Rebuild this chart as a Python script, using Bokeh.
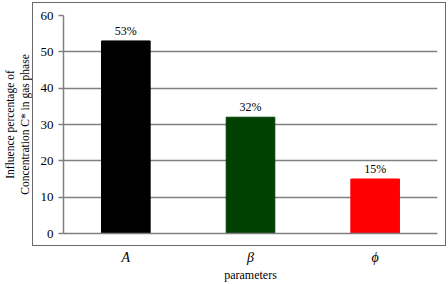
from bokeh.plotting import figure
from bokeh.models import ColumnDataSource, FactorRange, InlineStyleSheet
from bokeh.core.properties import value
from bokeh.embed import file_html
from bokeh.resources import INLINE

categories = ["A", "β", "ϕ"]
values = [53, 32, 15]
labels = ["53%", "32%", "15%"]
colors = ["#000000", "#004000", "#ff0000"]
y_ticks = [0, 10, 20, 30, 40, 50, 60]

SERIF = "Liberation Serif"

src = ColumnDataSource(dict(cat=categories, val=values, lab=labels, col=colors))

css = InlineStyleSheet(css="""
:host { position: relative; }
:host::after { content: ''; position: absolute; left: 32px; top: 2px; width: 412px; height: 242px;
  border: 1px solid #6a6a6a; pointer-events: none; }
""")

p = figure(width=448, height=284, x_range=FactorRange(*categories), y_range=(0, 60),
           output_backend="svg", toolbar_location=None,
           min_border_left=63, min_border_right=11, min_border_top=15, min_border_bottom=49,
           stylesheets=[css])
p.background_fill_color = "white"
p.border_fill_color = "white"
p.outline_line_color = None
p.x_range.range_padding = 0

p.vbar(x="cat", top="val", width=0.39, fill_color="col", line_color="col", source=src)
p.text(x="cat", y="val", text="lab", source=src, y_offset=-3,
       text_align="center", text_baseline="bottom",
       text_font=value(SERIF), text_font_size="12px", text_color="black")

gray = "#808080"
p.xgrid.grid_line_color = None
p.ygrid.grid_line_color = gray
p.ygrid.grid_line_width = 1.5

p.yaxis.ticker = y_ticks
p.yaxis.axis_line_color = gray
p.yaxis.axis_line_width = 1.5
p.yaxis.major_tick_line_color = gray
p.yaxis.major_tick_line_width = 1.5
p.yaxis.major_tick_out = 5
p.yaxis.major_tick_in = 0
p.yaxis.minor_tick_line_color = None
p.yaxis.major_label_standoff = 5
p.yaxis.major_label_text_font = SERIF
p.yaxis.major_label_text_font_size = "13px"
p.yaxis.major_label_text_color = "black"
p.yaxis.axis_label = "Influence percentage of\nConcentration C* in gas phase"
p.yaxis.axis_label_text_font = SERIF
p.yaxis.axis_label_text_font_style = "normal"
p.yaxis.axis_label_text_font_size = "11.5px"
p.yaxis.axis_label_text_color = "black"
p.yaxis.axis_label_standoff = 7

p.xaxis.axis_line_color = gray
p.xaxis.axis_line_width = 1.5
p.xaxis.major_tick_line_color = None
p.xaxis.minor_tick_line_color = None
p.xaxis.major_label_standoff = 10
p.xaxis.major_label_text_font = SERIF
p.xaxis.major_label_text_font_style = "italic"
p.xaxis.major_label_text_font_size = "14px"
p.xaxis.major_label_text_color = "black"
p.xaxis.axis_label = "parameters"
p.xaxis.axis_label_text_font = SERIF
p.xaxis.axis_label_text_font_style = "normal"
p.xaxis.axis_label_text_font_size = "12px"
p.xaxis.axis_label_text_color = "black"
p.xaxis.axis_label_standoff = 0

open("out.html", "w").write(file_html(p, INLINE))
